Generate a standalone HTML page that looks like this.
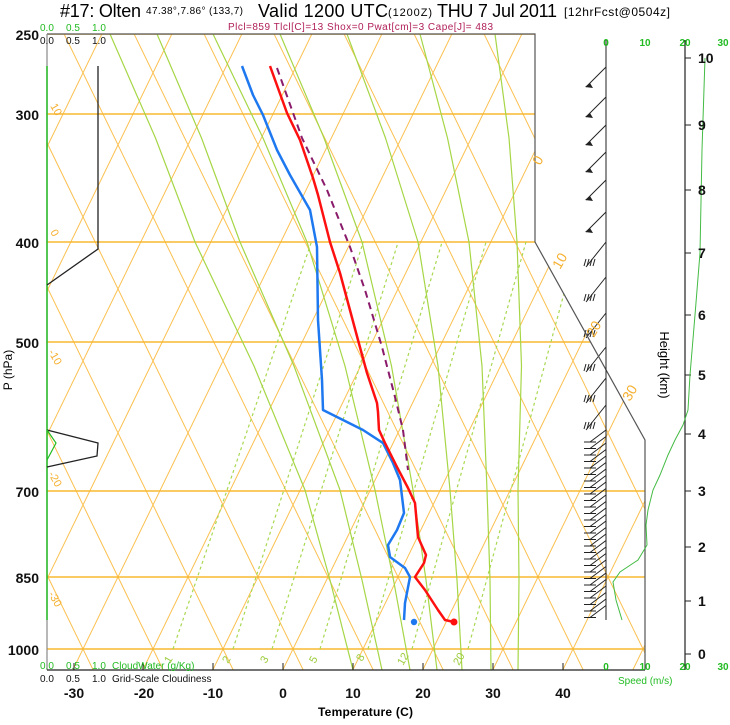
<!DOCTYPE html>
<html><head><meta charset="utf-8"><style>
html,body{margin:0;padding:0;background:#fff;}
svg{display:block;font-family:"Liberation Sans",Arial,sans-serif;}
</style></head><body>
<svg id="s" xmlns="http://www.w3.org/2000/svg" width="730" height="725" viewBox="0 0 730 725">
<defs><clipPath id="c"><polygon points="47,34 535,34 535,242 645,440 645,670 47,670"/></clipPath></defs>
<rect width="730" height="725" fill="#fff"/>
<g id="grid" clip-path="url(#c)"></g>
<g id="fg"></g>
<polyline points="47,34 535,34 535,242 645,440 645,670" fill="none" stroke="#555" stroke-width="1.2"/>
<line x1="47" y1="34" x2="47" y2="670" stroke="#888" stroke-width="1.2"/>
<line x1="47" y1="66" x2="47" y2="620" stroke="#22bb22" stroke-width="1.5"/>
<line x1="47" y1="670" x2="645" y2="670" stroke="#222" stroke-width="1.2"/>
<line x1="606" y1="40" x2="606" y2="620" stroke="#222" stroke-width="1"/>
<line x1="685" y1="40" x2="685" y2="670" stroke="#222" stroke-width="1.2"/>
<polyline points="98,66 98,249 47,285" fill="none" stroke="#222" stroke-width="1.3"/>
<polyline points="47,430 98,443 97,456 47,467" fill="none" stroke="#222" stroke-width="1.3"/>
<polyline points="47,430 56,443 47,460" fill="none" stroke="#22bb22" stroke-width="1.2"/>
<polyline points="705,58 702,150 700,253 695,315 690,375 688,410 683,425 675,440 668,455 660,475 653,490 648,510 646,525 647,545 638,560 620,572 613,582 616,600 622,620" fill="none" stroke="#44bb44" stroke-width="1"/>
<text x="60" y="17" font-size="18" textLength="81">#17: Olten</text>
<text x="146" y="14" font-size="10" textLength="97">47.38°,7.86° (133,7)</text>
<text x="258" y="17" font-size="18" textLength="130">Valid 1200 UTC</text>
<text x="388" y="16" font-size="11" textLength="44">(1200Z)</text>
<text x="437" y="17" font-size="18" textLength="120">THU 7 Jul 2011</text>
<text x="564" y="16" font-size="12" textLength="106">[12hrFcst@0504z]</text>
<text x="228" y="30" font-size="10" fill="#b0205a" textLength="265">Plcl=859 Tlcl[C]=13 Shox=0 Pwat[cm]=3 Cape[J]= 483</text>
<g font-size="10" fill="#22bb22"><text x="40" y="31">0.0</text><text x="66" y="31">0.5</text><text x="92" y="31">1.0</text></g>
<g font-size="10" fill="#111"><text x="40" y="44">0.0</text><text x="66" y="44">0.5</text><text x="92" y="44">1.0</text></g>
<g font-size="10" fill="#22bb22"><text x="40" y="669">0.0</text><text x="66" y="669">0.5</text><text x="92" y="669">1.0</text><text x="112" y="669">CloudWater (g/Kg)</text></g>
<g font-size="10" fill="#111"><text x="40" y="682">0.0</text><text x="66" y="682">0.5</text><text x="92" y="682">1.0</text><text x="112" y="682">Grid-Scale Cloudiness</text></g>
<g font-size="14" font-weight="bold" text-anchor="end" fill="#111">
<text x="39" y="40">250</text><text x="39" y="120">300</text><text x="39" y="248">400</text><text x="39" y="348">500</text><text x="39" y="497">700</text><text x="39" y="583">850</text><text x="39" y="655">1000</text></g>
<text transform="translate(12,370) rotate(-90)" font-size="12" text-anchor="middle">P (hPa)</text>
<g font-size="14" font-weight="bold" text-anchor="middle" fill="#111">
<text x="74" y="698">-30</text><text x="144" y="698">-20</text><text x="213" y="698">-10</text><text x="283" y="698">0</text><text x="353" y="698">10</text><text x="423" y="698">20</text><text x="493" y="698">30</text><text x="563" y="698">40</text></g>
<text x="318" y="716" font-size="12" font-weight="bold" textLength="95">Temperature (C)</text>
<g font-size="10" font-weight="bold" fill="#22bb22" text-anchor="middle">
<text x="606" y="46">0</text><text x="645" y="46">10</text><text x="685" y="46">20</text><text x="723" y="46">30</text>
<text x="606" y="670">0</text><text x="645" y="670">10</text><text x="685" y="670">20</text><text x="723" y="670">30</text></g>
<text x="618" y="684" font-size="10" fill="#22bb22">Speed (m/s)</text>
<text transform="translate(660,365) rotate(90)" font-size="13" text-anchor="middle">Height (km)</text>
<g font-size="14" font-weight="bold" fill="#111">
<text x="698" y="659">0</text><text x="698" y="606">1</text><text x="698" y="552">2</text><text x="698" y="496">3</text><text x="698" y="439">4</text><text x="698" y="380">5</text><text x="698" y="320">6</text><text x="698" y="258">7</text><text x="698" y="195">8</text><text x="698" y="130">9</text><text x="698" y="63">10</text></g>
<g fill="#f5b030" font-size="14">
<text transform="translate(540,166) rotate(-60)">0</text>
<text transform="translate(560,270) rotate(-60)">10</text>
<text transform="translate(594,338) rotate(-60)">20</text>
<text transform="translate(630,402) rotate(-60)">30</text></g>
<g fill="#f5b030" font-size="11">
<text transform="translate(50,106) rotate(60)">10</text>
<text transform="translate(50,232) rotate(60)">0</text>
<text transform="translate(48,352) rotate(60)">-10</text>
<text transform="translate(48,474) rotate(60)">-20</text>
<text transform="translate(48,594) rotate(60)">-30</text></g>
<g fill="#9ccc3c" font-size="11">
<text transform="translate(170,664) rotate(-60)">1</text>
<text transform="translate(228,664) rotate(-60)">2</text>
<text transform="translate(266,664) rotate(-60)">3</text>
<text transform="translate(315,664) rotate(-60)">5</text>
<text transform="translate(362,662) rotate(-60)">8</text>
<text transform="translate(403,666) rotate(-60)">12</text>
<text transform="translate(459,666) rotate(-60)">20</text></g>
<polyline points="242,66 253,95 263,115 277,150 290,175 310,210 317,247 318,320 322,380 323,410 343,420 363,430 383,443 393,463 400,480 404,513 397,530 388,545 390,557 405,568 410,577 405,603 404,620" fill="none" stroke="#1e78f0" stroke-width="2.5" stroke-linejoin="round"/>
<polyline points="277,68 302,138 327,190 350,247 365,290 382,347 395,397 403,430 408,470" fill="none" stroke="#8a1a6a" stroke-width="2" stroke-dasharray="7,5"/>
<polyline points="270,66 287,113 300,140 313,178 318,195 330,242 340,273 358,340 367,373 377,403 378,412 379,430 385,443 397,467 408,488 415,503 418,537 426,555 424,563 415,577 425,590 438,610 445,620 454,622" fill="none" stroke="#ff1010" stroke-width="2.5" stroke-linejoin="round"/>
<circle cx="454" cy="622" r="3.5" fill="#ff1010"/>
<circle cx="414" cy="622" r="3.2" fill="#1e78f0"/>
</svg>
<script>
var NS="http://www.w3.org/2000/svg";
function el(p,t,a){var e=document.createElementNS(NS,t);for(var k in a)e.setAttribute(k,a[k]);p.appendChild(e);return e;}
var g=document.getElementById('grid'),fg=document.getElementById('fg');
var s=0.486;
for(var k=-25;k<25;k++){var x0=83+70*k;
 el(g,'line',{x1:x0-s*649,y1:0,x2:x0+s*76,y2:725,stroke:'#fbc050','stroke-width':1});
 el(g,'line',{x1:x0+s*649,y1:0,x2:x0-s*76,y2:725,stroke:'#fbc050','stroke-width':1});}
[34,114,242,342,491,577,649].forEach(function(y){el(g,'line',{x1:40,y1:y,x2:700,y2:y,stroke:'#f8b830','stroke-width':1.4});});
[[173,0.34],[233,0.32],[272,0.31],[320,0.3],[368,0.29],[412,0.28],[468,0.27]].forEach(function(m){
 el(g,'line',{x1:m[0],y1:649,x2:m[0]+m[1]*(649-242),y2:242,stroke:'#a8d850','stroke-width':1.2,'stroke-dasharray':'3,3'});});
var L=[[110,195,305,353],[157,240,340,382],[213,307,375,410],[280,362,413,437],[347,418,450,462],[420,469,487,491],[495,517,518,518]];
L.forEach(function(a){
 var m1=(a[0]+a[1])/2+3, m2=(a[1]+a[2])/2+4, m3=(a[2]+a[3])/2+1;
 el(g,'polyline',{points:a[0]+',34 '+m1+',138 '+a[1]+',242 '+m2+',366 '+a[2]+',490 '+m3+',580 '+a[3]+',670',fill:'none',stroke:'#a6d646','stroke-width':1.2,'stroke-linejoin':'round'});});
var st={stroke:'#222','stroke-width':1,fill:'none'};
[87,117,145,172,200,232].forEach(function(y){
 el(fg,'line',Object.assign({x1:606,y1:y-20,x2:586,y2:y},st));
 el(fg,'polygon',{points:'585,'+y+' 593,'+(y+1)+' 590,'+(y-4),fill:'#222'});});
[267,302,338,372,403,430].forEach(function(y){
 el(fg,'line',Object.assign({x1:606,y1:y-25,x2:586,y2:y},st));
 for(var i=0;i<4;i++)el(fg,'line',Object.assign({x1:584+3*i,y1:y-1,x2:586+3*i,y2:y-8},st));});
for(var y=442;y<=618;y+=6.5){
 el(fg,'line',Object.assign({x1:606,y1:y-12,x2:590,y2:y},st));
 el(fg,'line',Object.assign({x1:584,y1:y,x2:596,y2:y},st));}
[654,601,547,491,434,375,315,253,190,125,58].forEach(function(y){el(fg,'line',{x1:685,y1:y,x2:691,y2:y,stroke:'#222'});});
[74,143,213,283,353,423,493,563].forEach(function(x){el(fg,'line',{x1:x,y1:670,x2:x,y2:663,stroke:'#222'});});
</script>
</body></html>
